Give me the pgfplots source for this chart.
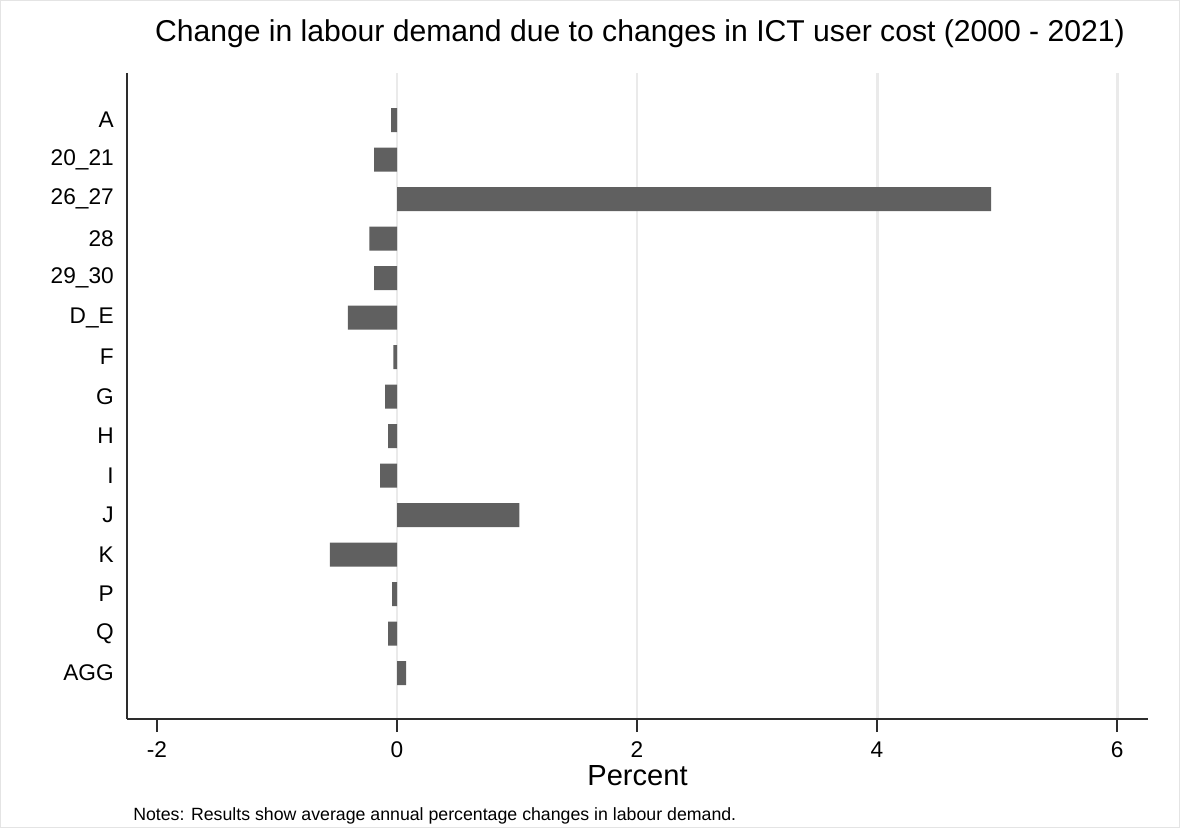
\documentclass[border=0pt]{standalone}
\usepackage{fontspec}
\setmainfont{Liberation Sans}
\usepackage{pgfplots}
\pgfplotsset{compat=1.18}
\definecolor{barc}{RGB}{96,96,96}
\definecolor{gridc}{RGB}{234,234,234}
\definecolor{axc}{RGB}{45,45,45}
\definecolor{framec}{RGB}{228,228,228}

\pgfplotstableread{
val pos
-0.05 0
-0.19 1
4.95 2
-0.23 3
-0.19 4
-0.41 5
-0.03 6
-0.10 7
-0.075 8
-0.14 9
1.02 10
-0.56 11
-0.04 12
-0.075 13
0.075 14
}\ictdata

\begin{document}
\begin{tikzpicture}
\useasboundingbox (0,0) rectangle (885pt,621pt);
\draw[framec, line width=0.8pt] (0.4pt,0.4pt) rectangle (884.6pt,620.6pt);
\begin{axis}[
  at={(95.25pt,81.75pt)}, anchor=south west,
  scale only axis, width=765.75pt, height=484.5pt,
  xmin=-2.25, xmax=6.258,
  ymin=-1.19, ymax=15.16,
  y dir=reverse,
  axis x line*=bottom, axis y line*=left,
  axis line style={-, axc, line width=1pt},
  xtick={0,2,4,6}, xticklabels={0,2,4,6},
  extra x ticks={-2}, extra x tick labels={-2},
  extra x tick style={grid=none},
  xmajorgrids,
  grid style={gridc, line width=2.2pt},
  tick align=outside, major tick length=9.75pt,
  xtick style={axc, line width=1pt},
  ytick={0,...,14},
  yticklabels={A,20\_21,26\_27,28,29\_30,D\_E,F,G,H,I,J,K,P,Q,AGG},
  ytick style={draw=none},
  tick label style={font=\fontsize{17}{20}\selectfont, inner sep=0pt},
  xticklabel style={anchor=base, yshift=-19pt},
  yticklabel style={anchor=east},
  title={Change in labour demand due to changes in ICT user cost (2000 - 2021)},
  title style={at={(axis description cs:0.5024,1)}, anchor=base, yshift=17.25pt,
    font=\fontsize{22.6}{27}\selectfont, inner sep=0pt},
  xlabel={Percent},
  xlabel style={at={(axis description cs:0.5,0)}, anchor=base, yshift=-50pt,
    font=\fontsize{21.8}{25}\selectfont, inner sep=0pt},
  clip=false,
]
\addplot[xbar, bar width=18pt, bar shift=0pt, fill=barc, draw=none]
  table[x=val, y=pos] {\ictdata};
\end{axis}
\node[anchor=base west, inner sep=0pt, font=\fontsize{13.3}{16}\selectfont]
  at (99.75pt,6pt) {Notes: Results show average annual percentage changes in labour demand.};
\end{tikzpicture}
\end{document}
